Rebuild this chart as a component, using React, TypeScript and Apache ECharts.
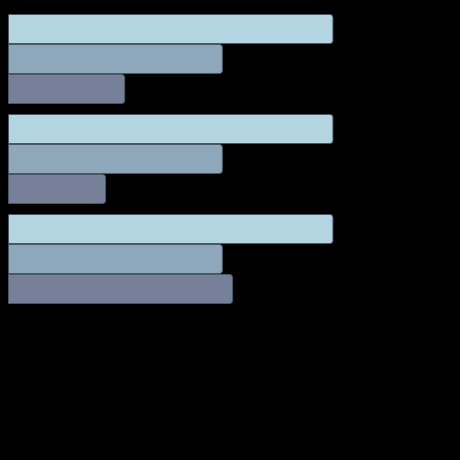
import React, { useEffect, useRef } from 'react'
import * as echarts from 'echarts'

const categories = ['A', 'B', 'C']
const seriesOne = [73.3, 73.3, 73.3]
const seriesTwo = [48.4, 48.4, 48.4]
const seriesThree = [26.4, 22.1, 50.7]

const colors = ['#b3d5e1', '#8ea7bb', '#768099']

const App: React.FC = () => {
  const chartRef = useRef<HTMLDivElement>(null)

  useEffect(() => {
    if (!chartRef.current) return
    const chart = echarts.init(chartRef.current, undefined, { renderer: 'svg' })

    const makeSeries = (name: string, data: number[], color: string) => ({
      name,
      type: 'bar',
      data,
      barGap: '0%',
      barCategoryGap: '10%',
      itemStyle: {
        color,
        borderColor: '#4a5866',
        borderWidth: 1,
        borderRadius: [0, 3, 3, 0]
      }
    })

    const option: echarts.EChartsOption = {
      animation: false,
      backgroundColor: '#000000',
      grid: {
        left: 8,
        top: 9,
        width: 444,
        height: 300
      },
      xAxis: {
        type: 'value',
        min: 0,
        max: 100,
        show: false
      },
      yAxis: {
        type: 'category',
        data: categories,
        inverse: true,
        show: false
      },
      series: [
        makeSeries('one', seriesOne, colors[0]),
        makeSeries('two', seriesTwo, colors[1]),
        makeSeries('three', seriesThree, colors[2])
      ] as any
    }

    chart.setOption(option)
    return () => {
      chart.dispose()
    }
  }, [])

  return (
    <div style={{ position: 'absolute', left: 0, top: 0, width: 460, height: 460, background: '#000' }}>
      <div ref={chartRef} style={{ width: 460, height: 460 }} />
    </div>
  )
}

export default App
